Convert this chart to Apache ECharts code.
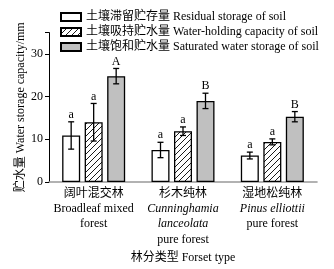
<!DOCTYPE html>
<html>
<head>
<meta charset="utf-8">
<script src="https://cdn.jsdelivr.net/npm/echarts@6/dist/echarts.min.js"></script>
<style>
  html, body { margin: 0; padding: 0; background: #fff; }
  #chart { width: 334px; height: 269px; }
</style>
</head>
<body>
<div id="chart"></div>
<script>
// data
var categories = ['阔叶混交林', '杉木纯林', '湿地松纯林'];
var catEnLines = [
  [['Broadleaf mixed', 'n'], ['forest', 'n']],
  [['Cunninghamia', 'i'], ['lanceolata', 'i'], ['pure forest', 'n']],
  [['Pinus elliottii', 'i'], ['pure forest', 'n']]
];
var seriesNames = [
  '土壤滞留贮存量 Residual storage of soil',
  '土壤吸持贮水量 Water-holding capacity of soil',
  '土壤饱和贮水量 Saturated water storage of soil'
];
var residual = [10.9, 7.5, 6.2];
var holding = [14.0, 11.9, 9.4];
var saturated = [24.8, 19.0, 15.3];
var residualErr = [3.2, 1.8, 0.8];
var holdingErr = [4.4, 1.0, 0.7];
var saturatedErr = [1.8, 1.8, 1.2];
var residualSig = ['a', 'a', 'a'];
var holdingSig = ['a', 'a', 'a'];
var saturatedSig = ['A', 'B', 'B'];

var FONT = '"Liberation Serif", "DejaVu Serif", "Noto Sans CJK SC", serif';

// hatch pattern "/"
var hatch = document.createElement('canvas');
hatch.width = 6; hatch.height = 6;
(function () {
  var c = hatch.getContext('2d');
  c.fillStyle = '#fff';
  c.fillRect(0, 0, 6, 6);
  c.strokeStyle = '#000';
  c.lineWidth = 0.9;
  c.beginPath();
  c.moveTo(0, 6); c.lineTo(6, 0);
  c.moveTo(-3, 3); c.lineTo(3, -3);
  c.moveTo(3, 9); c.lineTo(9, 3);
  c.stroke();
})();

var values = [residual, holding, saturated];
var errs = [residualErr, holdingErr, saturatedErr];
var sigs = [residualSig, holdingSig, saturatedSig];
var fills = ['#ffffff', { image: hatch, repeat: 'repeat' }, '#c0c0c0'];

var BAR_W = 18, STEP = 22.5;

var series = [];
for (var s = 0; s < 3; s++) {
  series.push({
    name: seriesNames[s],
    type: 'bar',
    data: values[s],
    barWidth: BAR_W,
    barGap: '25%',
    itemStyle: { color: fills[s], borderColor: '#000', borderWidth: 1.3 },
    silent: true
  });
}

var errData = [];
for (var s2 = 0; s2 < 3; s2++) {
  for (var i = 0; i < categories.length; i++) {
    errData.push([i, values[s2][i], errs[s2][i], s2, sigs[s2][i]]);
  }
}

series.push({
  type: 'custom',
  data: errData,
  z: 10,
  renderItem: function (params, api) {
    var idx = api.value(0), v = api.value(1), e = api.value(2), si = api.value(3);
    var sig = errData[params.dataIndex][4];
    var dx = (si - 1) * STEP;
    var top = api.coord([idx, v + e]);
    var bot = api.coord([idx, v - e]);
    var x = top[0] + dx;
    var st = { stroke: '#000', lineWidth: 1.3 };
    return {
      type: 'group',
      children: [
        { type: 'line', shape: { x1: x, y1: top[1], x2: x, y2: bot[1] }, style: st },
        { type: 'line', shape: { x1: x - 3, y1: top[1], x2: x + 3, y2: top[1] }, style: st },
        { type: 'line', shape: { x1: x - 3, y1: bot[1], x2: x + 3, y2: bot[1] }, style: st },
        { type: 'text', style: { x: x, y: top[1] - 1, text: sig, fill: '#000',
          font: '12px ' + FONT, textAlign: 'center', textVerticalAlign: 'bottom' } }
      ]
    };
  }
});

var chart = echarts.init(document.getElementById('chart'), null, { renderer: 'canvas' });
chart.setOption({
  animation: false,
  backgroundColor: '#fff',
  textStyle: { fontFamily: FONT },
  grid: { left: 49, right: 17, top: 32.6, bottom: 87, containLabel: false },
  legend: {
    data: seriesNames,
    orient: 'vertical',
    left: 55,
    top: 6,
    itemWidth: 20,
    itemHeight: 8,
    itemGap: 3,
    icon: 'rect',
    selectedMode: false,
    textStyle: { color: '#000', fontSize: 12, fontFamily: FONT }
  },
  xAxis: {
    type: 'category',
    data: categories,
    name: '林分类型 Forset type',
    nameLocation: 'middle',
    nameGap: 70,
    nameMoveOverlap: false,
    nameTextStyle: { color: '#000', fontSize: 12, fontFamily: FONT },
    axisLine: { lineStyle: { color: '#999', width: 1.6 } },
    axisTick: { show: false },
    axisLabel: {
      interval: 0,
      margin: 4,
      color: '#000',
      fontSize: 12,
      fontFamily: FONT,
      lineHeight: 15.3,
      formatter: function (val, i) {
        var out = ['{c|' + val + '}'];
        catEnLines[i].forEach(function (l) { out.push('{' + l[1] + '|' + l[0] + '}'); });
        return out.join('\n');
      },
      rich: {
        c: { fontSize: 12, lineHeight: 15.3, fontFamily: FONT, color: '#000' },
        n: { fontSize: 12, lineHeight: 15.3, fontFamily: FONT, color: '#000' },
        i: { fontSize: 12, lineHeight: 15.3, fontFamily: FONT, color: '#000', fontStyle: 'italic' }
      }
    }
  },
  yAxis: {
    type: 'value',
    min: 0,
    max: 35,
    interval: 10,
    name: '贮水量 Water storage capacity/mm',
    nameLocation: 'middle',
    nameGap: 22,
    nameMoveOverlap: false,
    nameTextStyle: { color: '#000', fontSize: 12, fontFamily: FONT },
    axisLine: { show: true, lineStyle: { color: '#000', width: 1 } },
    axisTick: { show: true, length: 4, lineStyle: { color: '#000' } },
    axisLabel: {
      color: '#000', fontSize: 12, fontFamily: FONT, margin: 6,
      formatter: function (v) { return v % 10 === 0 ? v : ''; }
    },
    splitLine: { show: false }
  },
  series: series
});
</script>
</body>
</html>
